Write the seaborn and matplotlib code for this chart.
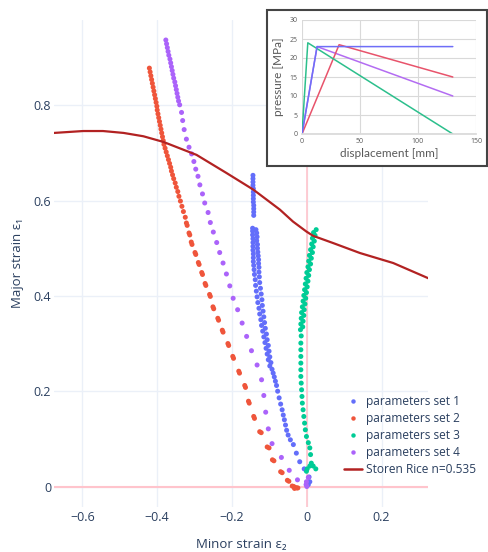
import matplotlib
matplotlib.use("Agg")
import matplotlib.pyplot as plt
from matplotlib.lines import Line2D
from matplotlib.patches import Rectangle
from matplotlib.ticker import FuncFormatter
import pandas as pd
import seaborn as sns

# ---- main chart data: minor strain (x) / major strain (y) ----
set1_x = [-0.144, -0.144, -0.144, -0.144, -0.143, -0.143, -0.143, -0.143, -0.143, -0.142, -0.142, -0.142, -0.142,
          -0.145, -0.136, -0.145, -0.134, -0.145, -0.133, -0.144, -0.134, -0.144, -0.132, -0.144, -0.132,
          -0.144, -0.131, -0.143, -0.130, -0.143, -0.129, -0.143, -0.129, -0.142, -0.128,
          -0.141, -0.128, -0.140, -0.127, -0.138, -0.126, -0.137, -0.124, -0.135, -0.122, -0.133, -0.120,
          -0.131, -0.119, -0.128, -0.117, -0.126, -0.115, -0.123, -0.113, -0.121, -0.111, -0.118, -0.108,
          -0.115, -0.106, -0.112, -0.103, -0.109, -0.101, -0.106, -0.099, -0.103, -0.096, -0.099, -0.093,
          -0.090, -0.087, -0.084, -0.081, -0.078, -0.074, -0.070, -0.066, -0.063, -0.060, -0.057, -0.054,
          -0.050, -0.044, -0.036, -0.028, -0.019, -0.007, 0.006, 0.008, 0.004]
set1_y = [0.653, 0.646, 0.639, 0.632, 0.625, 0.618, 0.611, 0.604, 0.597, 0.590, 0.583, 0.576, 0.569,
          0.542, 0.539, 0.536, 0.532, 0.528, 0.524, 0.520, 0.516, 0.512, 0.508, 0.504, 0.500,
          0.496, 0.492, 0.488, 0.484, 0.480, 0.476, 0.472, 0.468, 0.464, 0.460,
          0.455, 0.450, 0.445, 0.440, 0.434, 0.428, 0.422, 0.416, 0.410, 0.404, 0.398, 0.392,
          0.386, 0.380, 0.374, 0.368, 0.362, 0.356, 0.350, 0.344, 0.338, 0.332, 0.326, 0.320,
          0.314, 0.308, 0.302, 0.296, 0.290, 0.284, 0.278, 0.272, 0.266, 0.260, 0.253, 0.246,
          0.238, 0.230, 0.221, 0.212, 0.200, 0.186, 0.173, 0.161, 0.150, 0.140, 0.129, 0.118,
          0.108, 0.098, 0.088, 0.070, 0.052, 0.037, 0.020, 0.010, 0.004]

set2_x = [-0.421, -0.419, -0.417, -0.415, -0.413, -0.411, -0.409, -0.407, -0.405, -0.403, -0.401, -0.400,
          -0.398, -0.396, -0.394, -0.392, -0.390, -0.388, -0.386, -0.384, -0.382, -0.379, -0.376, -0.373,
          -0.370, -0.367, -0.364, -0.362, -0.359, -0.356, -0.352, -0.349, -0.345, -0.342, -0.338, -0.334,
          -0.330, -0.325,
          -0.322, -0.320, -0.315, -0.313, -0.309, -0.307, -0.299, -0.297, -0.290, -0.288, -0.281, -0.279,
          -0.272, -0.270, -0.260, -0.258, -0.251, -0.249, -0.238, -0.236, -0.226, -0.224, -0.211, -0.209,
          -0.198, -0.196, -0.182, -0.180, -0.166, -0.164, -0.156, -0.154, -0.142, -0.140, -0.126, -0.122,
          -0.106, -0.101, -0.092, -0.088, -0.070, -0.066, -0.052, -0.048, -0.039, -0.035,
          -0.031, -0.027, -0.024, -0.033]
set2_y = [0.878, 0.870, 0.862, 0.854, 0.846, 0.838, 0.830, 0.822, 0.814, 0.806, 0.798, 0.790,
          0.782, 0.774, 0.766, 0.758, 0.750, 0.742, 0.734, 0.726, 0.718, 0.710, 0.702, 0.694,
          0.686, 0.678, 0.670, 0.662, 0.654, 0.646, 0.637, 0.628, 0.619, 0.609, 0.599, 0.588,
          0.577, 0.565,
          0.553, 0.548, 0.532, 0.528, 0.513, 0.508, 0.491, 0.487, 0.470, 0.466, 0.449, 0.445,
          0.426, 0.422, 0.403, 0.399, 0.377, 0.373, 0.353, 0.349, 0.328, 0.324, 0.300, 0.296,
          0.273, 0.269, 0.242, 0.238, 0.212, 0.208, 0.179, 0.175, 0.147, 0.143, 0.115, 0.113,
          0.083, 0.081, 0.056, 0.054, 0.031, 0.029, 0.013, 0.011, 0.001, 0.000,
          -0.002, -0.003, -0.003, -0.004]

set3_x = [0.025, 0.018, 0.022, 0.015, 0.020, 0.013, 0.017, 0.010, 0.015, 0.007, 0.012, 0.005,
          0.010, 0.003, 0.007, 0.000, 0.005, -0.002, 0.003, -0.004, 0.001, -0.006, -0.001, -0.008,
          -0.003, -0.010, -0.005, -0.012, -0.007, -0.014, -0.008, -0.015, -0.010, -0.016, -0.011, -0.017,
          -0.015, -0.016, -0.016, -0.016, -0.016, -0.016, -0.016, -0.015, -0.014, -0.013, -0.012, -0.010,
          -0.008, -0.006, -0.004, -0.001, 0.004, 0.008, 0.010, 0.012, 0.008, 0.001, 0.017, 0.024, -0.001]
set3_y = [0.539, 0.533, 0.527, 0.521, 0.515, 0.509, 0.503, 0.497, 0.491, 0.485, 0.479, 0.473,
          0.467, 0.461, 0.455, 0.449, 0.443, 0.437, 0.431, 0.425, 0.419, 0.413, 0.407, 0.401,
          0.395, 0.389, 0.383, 0.377, 0.371, 0.365, 0.359, 0.353, 0.347, 0.341, 0.335, 0.329,
          0.316, 0.301, 0.287, 0.273, 0.259, 0.245, 0.231, 0.217, 0.203, 0.189, 0.175, 0.161,
          0.147, 0.133, 0.119, 0.105, 0.092, 0.081, 0.067, 0.049, 0.043, 0.037, 0.043, 0.037, 0.032]

set4_x = [-0.377, -0.375, -0.373, -0.371, -0.369, -0.366, -0.364, -0.362, -0.360, -0.358, -0.356, -0.353,
          -0.351, -0.349, -0.347, -0.345, -0.343, -0.340,
          -0.335, -0.332, -0.328, -0.322, -0.315, -0.308, -0.302, -0.297, -0.291, -0.286, -0.279, -0.273,
          -0.264, -0.258, -0.250, -0.241, -0.233, -0.224, -0.215, -0.206, -0.197, -0.185, -0.173, -0.161,
          -0.148, -0.133, -0.121, -0.115, -0.110, -0.103, -0.093, -0.068, -0.047, -0.025, -0.001, 0.004,
          -0.002, 0.000]
set4_y = [0.937, 0.929, 0.921, 0.913, 0.905, 0.897, 0.889, 0.881, 0.873, 0.865, 0.857, 0.849,
          0.841, 0.833, 0.825, 0.817, 0.809, 0.801,
          0.785, 0.768, 0.749, 0.729, 0.712, 0.698, 0.682, 0.666, 0.651, 0.633, 0.614, 0.595,
          0.575, 0.554, 0.534, 0.512, 0.491, 0.469, 0.446, 0.421, 0.395, 0.371, 0.343, 0.315,
          0.285, 0.255, 0.224, 0.191, 0.156, 0.121, 0.090, 0.061, 0.034, 0.014, 0.010, 0.019,
          0.004, 0.000]

storen_x = [-0.676, -0.598, -0.545, -0.490, -0.437, -0.383, -0.295, -0.215, -0.143, -0.072, -0.037,
            -0.001, 0.017, 0.070, 0.142, 0.231, 0.325]
storen_y = [0.742, 0.746, 0.746, 0.742, 0.735, 0.723, 0.696, 0.658, 0.623, 0.581, 0.556,
            0.535, 0.526, 0.511, 0.490, 0.469, 0.437]

series_names = ["parameters set 1", "parameters set 2", "parameters set 3", "parameters set 4"]
series_colors = ["#636EFA", "#EF553B", "#00CC96", "#AB63FA"]

# ---- inset chart data: pressure vs displacement ----
inset_names = ["set 4", "set 2", "set 3", "set 1"]
inset_disp = [[0, 13, 130], [0, 32, 130], [0, 5, 130], [0, 13, 130]]
inset_pres = [[0, 23, 10], [0, 23.5, 15], [0, 24, 0], [0, 23, 23]]
inset_colors = ["#B36CF2", "#E8536B", "#2CBF8C", "#6E6EF7"]

TXT = "#2a3f5f"
sns.set_theme(style="white")
plt.rcParams["font.family"] = ["Open Sans", "DejaVu Sans"]

frames = []
for name, xs, ys in zip(series_names, [set1_x, set2_x, set3_x, set4_x], [set1_y, set2_y, set3_y, set4_y]):
    frames.append(pd.DataFrame({"e2": xs, "e1": ys, "series": name}))
df = pd.concat(frames, ignore_index=True)
storen = pd.DataFrame({"e2": storen_x, "e1": storen_y})

fig = plt.figure(figsize=(4.88, 5.52), dpi=100)
ax = fig.add_axes([54 / 488, 45 / 552, 374 / 488, 487 / 552])

ax.axhline(0, color="#ffc4cc", lw=1.5, zorder=1)
ax.axvline(0, color="#ffc4cc", lw=1.2, zorder=1)

sns.scatterplot(data=df, x="e2", y="e1", hue="series", palette=dict(zip(series_names, series_colors)),
                s=13, linewidth=0, legend=False, ax=ax, zorder=3)
sns.lineplot(data=storen, x="e2", y="e1", sort=False, color="#B22222", lw=1.6, ax=ax, zorder=4)

ax.set_xlim(-0.676, 0.324)
ax.set_ylim(-0.043, 0.979)
ax.set_xticks([-0.6, -0.4, -0.2, 0, 0.2])
ax.set_yticks([0, 0.2, 0.4, 0.6, 0.8])
fmt = FuncFormatter(lambda v, _: ("%g" % round(v, 2)).replace("-", "\u2212"))
ax.xaxis.set_major_formatter(fmt)
ax.yaxis.set_major_formatter(fmt)
ax.grid(True, color="#EBF0F8", lw=1)
ax.set_axisbelow(True)
for sp in ax.spines.values():
    sp.set_visible(False)
ax.tick_params(length=0, labelsize=9, labelcolor=TXT, pad=3)
ax.tick_params(axis="y", pad=2)

ax.set_xlabel("Minor strain \u03b5\u2082", fontsize=9.5, color=TXT, va="center")
ax.set_ylabel("Major strain \u03b5\u2081", fontsize=9.5, color=TXT, va="center")
ax.xaxis.set_label_coords(0.5, (507 - 545) / 487)
ax.yaxis.set_label_coords((18 - 54) / 374, 0.5)

handles = [Line2D([], [], ls="none", marker="o", ms=3.2, mec="none", mfc=c) for c in series_colors]
handles.append(Line2D([], [], color="#B22222", lw=1.8))
fig.legend(handles, series_names + ["Storen Rice n=0.535"], loc="upper left",
           bbox_to_anchor=(344 / 488, 1 - 395 / 552), frameon=False, fontsize=8.6,
           labelcolor=TXT, handlelength=1.5, handletextpad=0.3, labelspacing=0.33,
           borderpad=0, borderaxespad=0)

# ---- inset (pasted pressure chart) ----
frame = Rectangle((267 / 488, 1 - 166 / 552), 220 / 488, 156 / 552, transform=fig.transFigure,
                  facecolor="white", edgecolor="#444444", lw=1.5, zorder=10)
fig.patches.append(frame)
iax = fig.add_axes([302 / 488, 1 - 134 / 552, 174 / 488, 114 / 552], zorder=11)
for name, xs, ys, c in zip(inset_names, inset_disp, inset_pres, inset_colors):
    sns.lineplot(x=xs, y=ys, color=c, lw=1.1, ax=iax)
iax.set_xlim(0, 150)
iax.set_ylim(0, 30)
iax.set_xticks([0, 50, 100, 150])
iax.set_yticks([0, 5, 10, 15, 20, 25, 30])
iax.grid(True, color="#d9d9d9", lw=0.8)
iax.set_axisbelow(True)
for sp in iax.spines.values():
    sp.set_visible(False)
iax.spines["bottom"].set_visible(True)
iax.spines["bottom"].set_color("#d9d9d9")
iax.tick_params(length=0, labelsize=5, labelcolor="#595959", pad=3)
iax.set_xlabel("displacement [mm]", fontsize=8.5, color="#595959", family=["Lato", "DejaVu Sans"], labelpad=2)
iax.set_ylabel("pressure [MPa]", fontsize=8.5, color="#595959", family=["Lato", "DejaVu Sans"], labelpad=4)

fig.savefig("out.png", dpi=100)
